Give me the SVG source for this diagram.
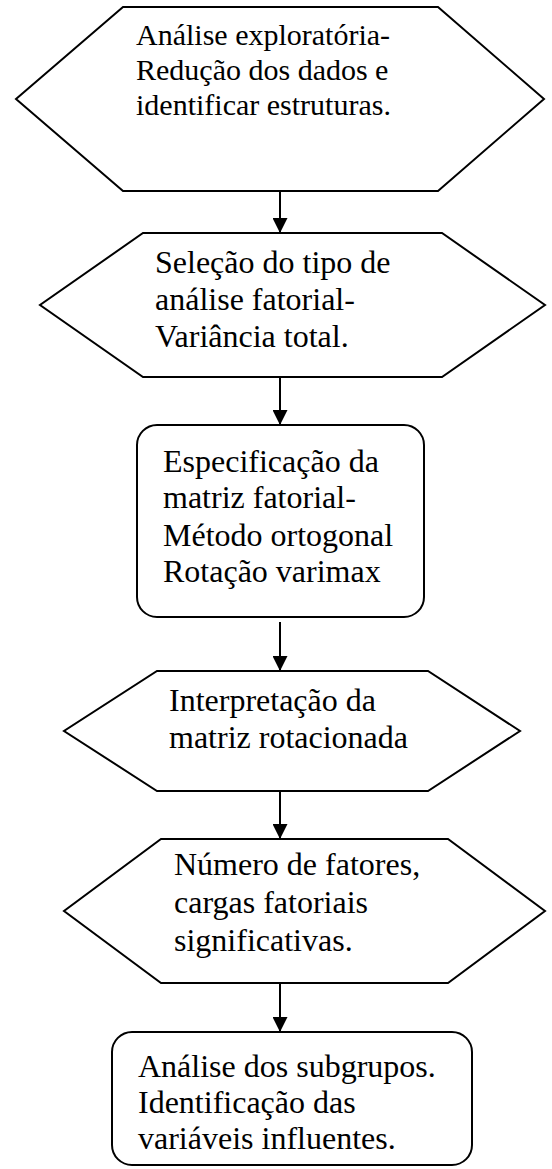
<svg xmlns="http://www.w3.org/2000/svg" width="552" height="1169" viewBox="0 0 552 1169">
<style>
.shape{fill:#ffffff;stroke:#000000;stroke-width:2;stroke-linejoin:miter}
.lbl{font-family:"Liberation Serif","Times New Roman",serif;font-size:32px;fill:#000000}
.lbl1{font-family:"Liberation Serif","Times New Roman",serif;font-size:30px;fill:#000000}
.conn{stroke:#000000;stroke-width:2;fill:none}
</style>
<defs>
<marker id="arrow" markerWidth="15" markerHeight="15" refX="15" refY="7.5" orient="auto" markerUnits="userSpaceOnUse" viewBox="0 0 15 15">
<path d="M0,0 L15,7.5 L0,15 Z" fill="#000000"/>
</marker>
</defs>
<rect x="0" y="0" width="552" height="1169" fill="#ffffff"/>
<g id="connectors">
<line class="conn" x1="280" y1="185" x2="280" y2="233" marker-end="url(#arrow)"/>
<line class="conn" x1="280" y1="377" x2="280" y2="425" marker-end="url(#arrow)"/>
<line class="conn" x1="280" y1="622" x2="280" y2="671" marker-end="url(#arrow)"/>
<line class="conn" x1="280" y1="791" x2="280" y2="839" marker-end="url(#arrow)"/>
<line class="conn" x1="280" y1="983" x2="280" y2="1032" marker-end="url(#arrow)"/>
</g>
<g id="node1">
<polygon class="shape" points="123,7 438,7 544,99 438,191 123,191 16,99"/>
<text class="lbl1" x="136" y="45">Análise exploratória-</text>
<text class="lbl1" x="136" y="80">Redução dos dados e</text>
<text class="lbl1" x="136" y="115">identificar estruturas.</text>
</g>
<g id="node2">
<polygon class="shape" points="143,233 442,233 545,305 442,377 143,377 40,305"/>
<text class="lbl" x="155" y="273">Seleção do tipo de</text>
<text class="lbl" x="155" y="310">análise fatorial-</text>
<text class="lbl" x="155" y="347">Variância total.</text>
</g>
<g id="node3">
<rect class="shape" x="137" y="425" width="287" height="192" rx="20" ry="20"/>
<text class="lbl" x="163" y="472">Especificação da</text>
<text class="lbl" x="163" y="508">matriz fatorial-</text>
<text class="lbl" x="163" y="546">Método ortogonal</text>
<text class="lbl" x="163" y="582">Rotação varimax</text>
</g>
<g id="node4">
<polygon class="shape" points="157,671 428,671 520,731 428,791 157,791 64,731"/>
<text class="lbl" x="169" y="711">Interpretação da</text>
<text class="lbl" x="169" y="748">matriz rotacionada</text>
</g>
<g id="node5">
<polygon class="shape" points="161,839 448,839 545,911 448,983 161,983 64,911"/>
<text class="lbl" x="174" y="875">Número de fatores,</text>
<text class="lbl" x="174" y="913">cargas fatoriais</text>
<text class="lbl" x="174" y="951">significativas.</text>
</g>
<g id="node6">
<rect class="shape" x="112" y="1032" width="360" height="133" rx="20" ry="20"/>
<text class="lbl" x="138" y="1077">Análise dos subgrupos.</text>
<text class="lbl" x="138" y="1113">Identificação das</text>
<text class="lbl" x="138" y="1149">variáveis influentes.</text>
</g>
</svg>
